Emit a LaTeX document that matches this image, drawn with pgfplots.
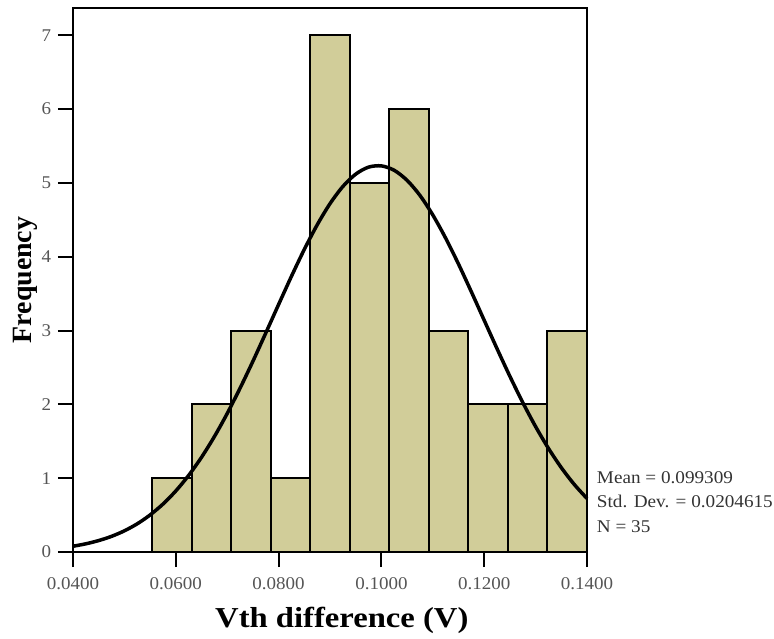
\documentclass[border=0pt]{standalone}
\usepackage{pgfplots}
\pgfplotsset{compat=1.18}
\usepackage{fontspec}
\setmainfont{Liberation Serif}
\definecolor{barfill}{RGB}{209,205,153}
\definecolor{ticklab}{RGB}{85,85,85}
\begin{document}
\begin{tikzpicture}
\useasboundingbox (-73bp,-87bp) rectangle (701bp,552bp);
\begin{axis}[
  scale only axis,
  width=514bp, height=544bp,
  xmin=0.04, xmax=0.14, ymin=0, ymax=7.37,
  xtick={0.04,0.06,0.08,0.1,0.12,0.14},
  xticklabels={0.0400,0.0600,0.0800,0.1000,0.1200,0.1400},
  ytick={0,1,2,3,4,5,6,7},
  tick align=outside,
  major tick length=15bp,
  major tick style={black, line width=2bp},
  xtick pos=bottom, ytick pos=left,
  axis line style={line width=2.5bp},
  tick label style={font=\fontsize{18}{20}\selectfont, text=ticklab, xscale=1.06},
  xticklabel style={yshift=-7bp},
  yticklabel style={xshift=-3bp},
  /pgf/number format/assume math mode=true,
  clip=false,
]
\addplot[ybar interval, fill=barfill, draw=black, line width=2bp] coordinates {
  (0.05537,1) (0.06306,2) (0.07076,3) (0.07845,1) (0.08615,7) (0.09384,5)
  (0.10154,6) (0.10923,3) (0.11692,2) (0.12462,2) (0.13231,3) (0.14000,3)
};
\addplot[smooth, black, line width=3.5bp, no markers] coordinates {
  (0.0400,0.078) (0.0425,0.111) (0.0450,0.155) (0.0475,0.212) (0.0500,0.287)
  (0.0525,0.382) (0.0550,0.502) (0.0575,0.649) (0.0600,0.827) (0.0625,1.038)
  (0.0650,1.283) (0.0675,1.563) (0.0700,1.876) (0.0725,2.219) (0.0750,2.584)
  (0.0775,2.966) (0.0800,3.353) (0.0825,3.735) (0.0850,4.099) (0.0875,4.431)
  (0.0900,4.719) (0.0925,4.952) (0.0950,5.119) (0.0975,5.214) (0.1000,5.231)
  (0.1025,5.171) (0.1050,5.035) (0.1075,4.831) (0.1100,4.566) (0.1125,4.252)
  (0.1150,3.901) (0.1175,3.525) (0.1200,3.139) (0.1225,2.754) (0.1250,2.380)
  (0.1275,2.026) (0.1300,1.699) (0.1325,1.404) (0.1350,1.143) (0.1375,0.917)
  (0.1400,0.725)
};
\node[font=\bfseries\fontsize{29}{32}\selectfont, xscale=1.13] at (axis description cs:0.523,-0.125) {Vth difference (V)};
\node[rotate=90, font=\bfseries\fontsize{28}{30}\selectfont] at (axis description cs:-0.0934,0.5) {Frequency};
\node[anchor=west, align=left, inner sep=0pt, font=\fontsize{18}{24.5}\selectfont, text=black!80, xscale=1.07] at (axis description cs:1.019,0.092) {Mean = 0.099309\\Std. Dev. = 0.0204615\\N = 35};
\end{axis}
\end{tikzpicture}
\end{document}
